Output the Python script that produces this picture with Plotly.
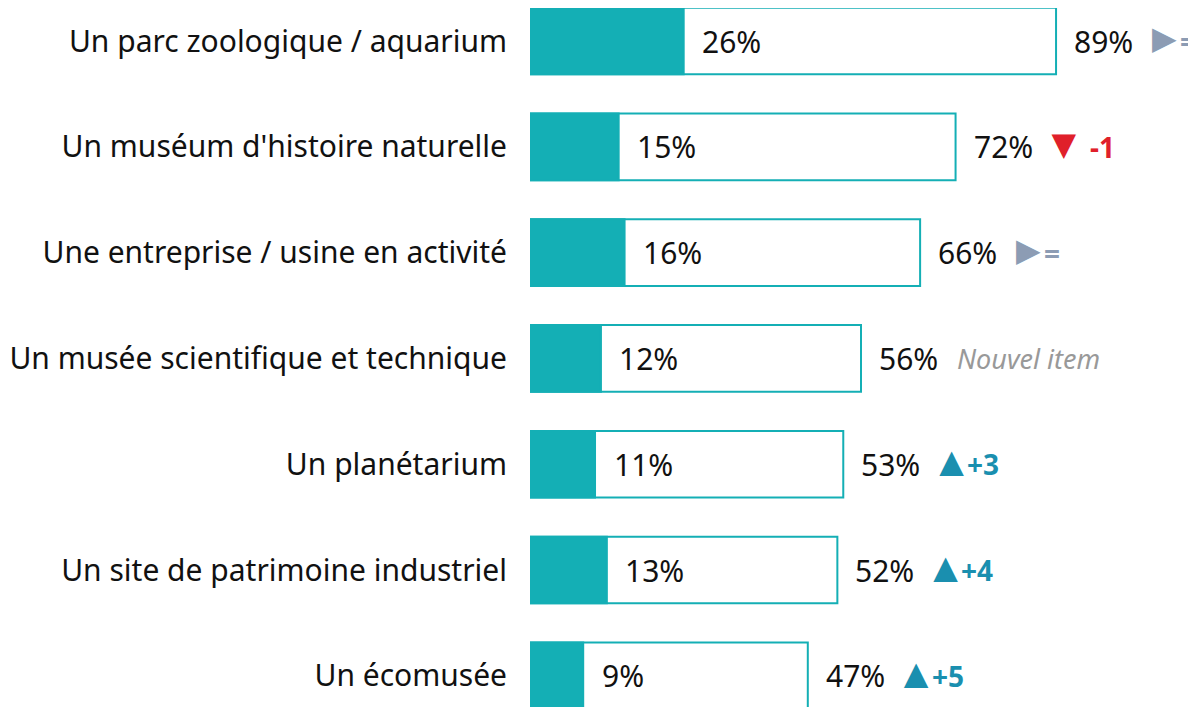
import plotly.graph_objects as go

# données
categories = [
    "Un parc zoologique / aquarium",
    "Un muséum d'histoire naturelle",
    "Une entreprise / usine en activité",
    "Un musée scientifique et technique",
    "Un planétarium",
    "Un site de patrimoine industriel",
    "Un écomusée",
]
total_pct = [89, 72, 66, 56, 53, 52, 47]
first_pct = [26, 15, 16, 12, 11, 13, 9]
evolution = ["=", "-1", "=", None, "+3", "+4", "+5"]
new_label = "Nouvel item"

TEAL = "#14AFB5"
UP = "#1A8FAF"
DOWN = "#E0202A"
FLAT = "#8C9CB4"
TXT = "#111111"
FONT = "Noto Sans"

fig = go.Figure()

# barre totale (contour)
fig.add_trace(go.Bar(
    y=categories, x=total_pct, orientation="h", width=0.63,
    marker=dict(color="white", line=dict(color=TEAL, width=2)),
    hoverinfo="skip",
))
# barre premier choix (pleine)
fig.add_trace(go.Bar(
    y=categories, x=first_pct, orientation="h", width=0.63,
    marker=dict(color=TEAL, line=dict(color=TEAL, width=2)),
    hoverinfo="skip",
))

# triangles d'évolution (glyphes)
for glyph, col, test in [("▶", FLAT, lambda e: e == "="),
                         ("▼", DOWN, lambda e: e.startswith("-")),
                         ("▲", UP, lambda e: e.startswith("+"))]:
    xs, ys = [], []
    for c, t, e in zip(categories, total_pct, evolution):
        if e is not None and test(e):
            xs.append(t + 18.3)
            ys.append(c)
    fig.add_trace(go.Scatter(
        x=xs, y=ys, mode="text", text=[glyph] * len(xs),
        textposition="middle center",
        textfont=dict(family="DejaVu Sans", size=32, color=col),
        hoverinfo="skip", cliponaxis=False,
    ))

annotations = []
for c, t, f, e in zip(categories, total_pct, first_pct, evolution):
    annotations.append(dict(x=f + 2.8, y=c, text=f"{f}%", xanchor="left",
                            showarrow=False, font=dict(size=30, color=TXT)))
    annotations.append(dict(x=t + 2.7, y=c, text=f"{t}%", xanchor="left",
                            showarrow=False, font=dict(size=30, color=TXT)))
    if e is None:
        annotations.append(dict(x=t + 15.9, y=c, text=f"<i>{new_label}</i>", xanchor="left",
                                showarrow=False, font=dict(size=27, color="#999999")))
    else:
        col = FLAT if e == "=" else (DOWN if e.startswith("-") else UP)
        shift = 1.8 if e.startswith("-") else 0
        annotations.append(dict(x=t + 20.6 + shift, y=c, text=f"<b>{e}</b>", xanchor="left",
                                showarrow=False, font=dict(size=28, color=col)))

fig.update_layout(
    width=1196, height=707,
    barmode="overlay",
    showlegend=False,
    plot_bgcolor="white", paper_bgcolor="white",
    margin=dict(l=522, r=12, t=0, b=0),
    font=dict(family=FONT, color=TXT),
    annotations=annotations,
    xaxis=dict(range=[0, 112], visible=False),
    yaxis=dict(range=[6.370, -0.312], showgrid=False, zeroline=False,
               ticks="", ticklabelstandoff=22,
               tickfont=dict(size=30, color=TXT, family=FONT)),
)

fig.write_html("out.html")
